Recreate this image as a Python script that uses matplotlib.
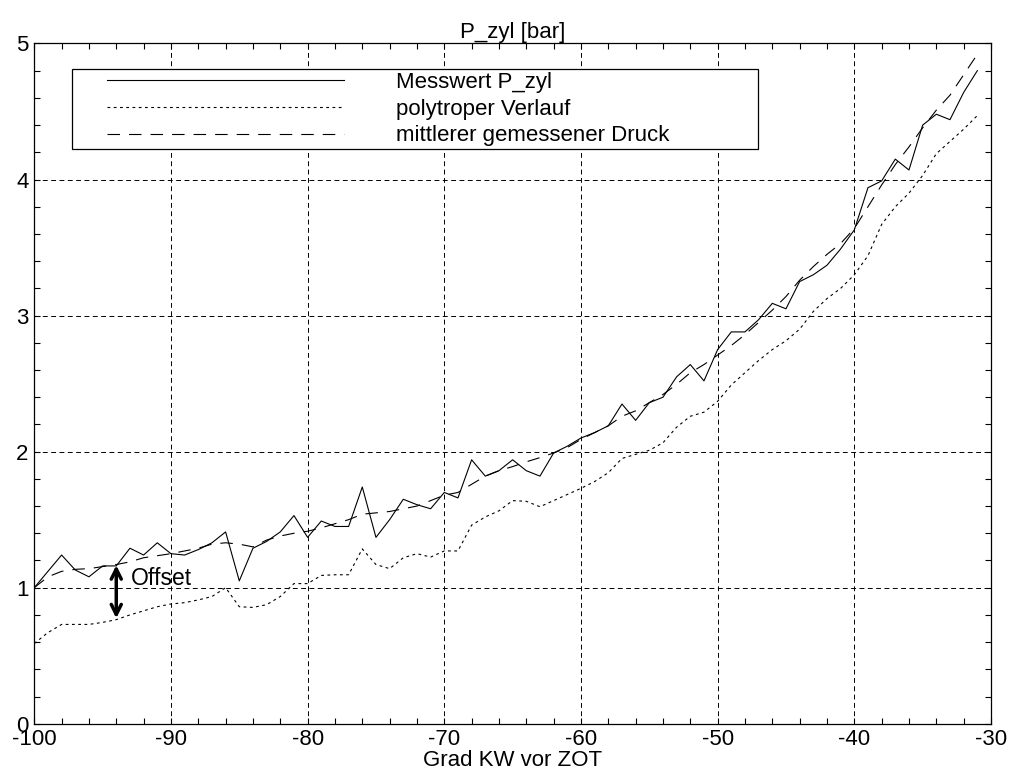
import numpy as np
import matplotlib
matplotlib.use('Agg')
from matplotlib import pyplot as plt
from matplotlib.ticker import MultipleLocator
from matplotlib.lines import Line2D
from matplotlib.legend_handler import HandlerLine2D

plt.rcParams['font.family'] = ['Liberation Sans', 'DejaVu Sans']
plt.rcParams['axes.unicode_minus'] = False
plt.rcParams['lines.scale_dashes'] = False

# crank angle in degrees before TDC, one sample per degree
grad_kw = np.arange(-100, -30)

# measured cylinder pressure
p_mess = [1.00, 1.12, 1.24, 1.13, 1.08, 1.16, 1.16, 1.29, 1.24, 1.33,
          1.25, 1.24, 1.28, 1.33, 1.41, 1.05, 1.29, 1.34, 1.41, 1.53,
          1.37, 1.49, 1.45, 1.45, 1.74, 1.37, 1.50, 1.65, 1.61, 1.58,
          1.70, 1.66, 1.94, 1.82, 1.86, 1.94, 1.86, 1.82, 1.99, 2.04,
          2.10, 2.14, 2.19, 2.35, 2.23, 2.36, 2.40, 2.55, 2.64, 2.52,
          2.75, 2.88, 2.88, 2.97, 3.09, 3.05, 3.25, 3.30, 3.37, 3.49,
          3.63, 3.94, 3.99, 4.15, 4.07, 4.40, 4.48, 4.44, 4.64, 4.80]

# polytropic curve
p_poly = [0.59, 0.67, 0.73, 0.73, 0.73, 0.745, 0.765, 0.80, 0.83, 0.86,
          0.88, 0.89, 0.91, 0.935, 1.00, 0.86, 0.855, 0.875, 0.935, 1.03,
          1.03, 1.09, 1.095, 1.095, 1.285, 1.17, 1.14, 1.22, 1.25, 1.225,
          1.27, 1.27, 1.46, 1.52, 1.565, 1.64, 1.635, 1.595, 1.64, 1.685,
          1.73, 1.78, 1.845, 1.95, 1.98, 2.01, 2.065, 2.18, 2.26, 2.29,
          2.37, 2.49, 2.58, 2.67, 2.75, 2.815, 2.90, 3.03, 3.125, 3.20,
          3.30, 3.44, 3.67, 3.80, 3.90, 4.03, 4.19, 4.28, 4.37, 4.47]

# mean measured pressure
p_mittel = [1.00, 1.08, 1.12, 1.135, 1.14, 1.155, 1.17, 1.19, 1.22, 1.235,
            1.25, 1.27, 1.29, 1.32, 1.33, 1.32, 1.30, 1.35, 1.38, 1.40,
            1.415, 1.44, 1.47, 1.50, 1.54, 1.55, 1.56, 1.58, 1.60, 1.64,
            1.68, 1.70, 1.76, 1.82, 1.86, 1.89, 1.925, 1.956, 1.99, 2.03,
            2.09, 2.14, 2.19, 2.26, 2.30, 2.36, 2.42, 2.495, 2.58, 2.64,
            2.71, 2.78, 2.86, 2.95, 3.04, 3.14, 3.26, 3.36, 3.45, 3.53,
            3.64, 3.80, 3.96, 4.11, 4.24, 4.38, 4.51, 4.62, 4.77, 4.92]

fs = 16

fig = plt.figure(figsize=(10.11, 7.71), dpi=100)
ax = fig.add_axes([0.0339, 0.0613, 0.9463, 0.8823])

ax.plot(grad_kw, p_mess, color='k', lw=0.8, label='Messwert P_zyl')
ax.plot(grad_kw, p_poly, color='k', lw=0.8, dashes=(2, 2.5), label='polytroper Verlauf')
ax.plot(grad_kw, p_mittel, color='k', lw=0.8, dashes=(9, 6.5), label='mittlerer gemessener Druck')

# offset arrow between measured and polytropic curve
ax.annotate('', xy=(-94, 0.775), xytext=(-94, 1.165),
            arrowprops=dict(arrowstyle='<->', lw=2.5, color='k',
                            shrinkA=0, shrinkB=0, mutation_scale=18))
ax.text(-92.9, 1.07, 'Offset', fontsize=16.5, va='center', ha='left')

ax.set_xlim(-100, -30)
ax.set_ylim(0, 5)
ax.xaxis.set_major_locator(MultipleLocator(10))
ax.xaxis.set_minor_locator(MultipleLocator(2))
ax.yaxis.set_major_locator(MultipleLocator(1))
ax.yaxis.set_minor_locator(MultipleLocator(0.2))
ax.tick_params(which='both', direction='in', top=True, right=True,
               length=4, width=0.8, labelsize=fs)
ax.tick_params(axis='x', pad=4)
ax.tick_params(axis='y', pad=4)
ax.grid(True, which='major', color='k', lw=0.7, dashes=(3.5, 2.5))

for s in ax.spines.values():
    s.set_linewidth(0.9)

ax.set_title('P_zyl [bar]', fontsize=fs, pad=1)
ax.set_xlabel('Grad KW vor ZOT', fontsize=fs, labelpad=0)

leg = ax.legend(loc='upper left', bbox_to_anchor=(0.0394, 0.962, 0.717, 0.0),
                mode='expand', fontsize=fs, handlelength=12.1, handletextpad=2.35,
                labelspacing=0.25, borderpad=0.13, fancybox=False, framealpha=1,
                edgecolor='k', borderaxespad=0,
                handler_map={Line2D: HandlerLine2D(xpad=1.45)})
leg.get_frame().set_linewidth(0.9)

fig.savefig('out.png', dpi=100)
